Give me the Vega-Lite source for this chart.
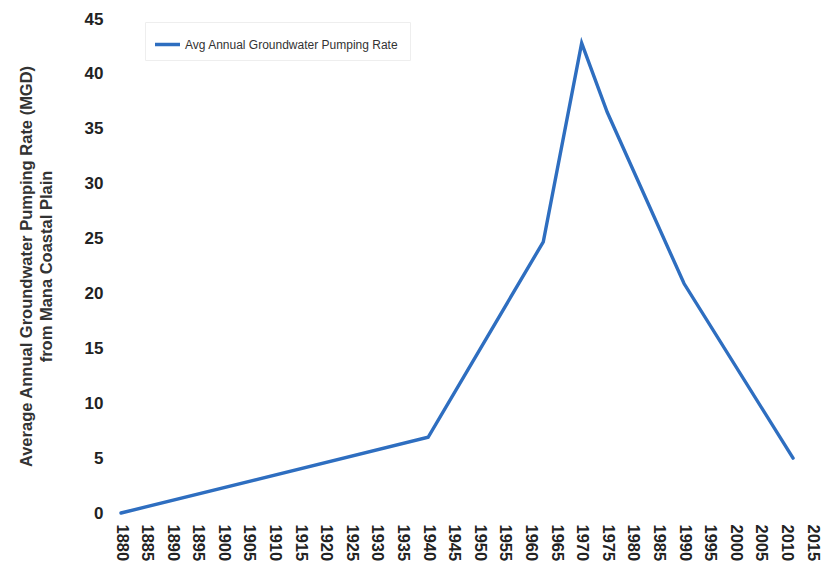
{
  "$schema": "https://vega.github.io/schema/vega-lite/v6.json",
  "width": 691,
  "height": 494,
  "autosize": "none",
  "padding": {"left": 121, "top": 19, "right": 23, "bottom": 59},
  "background": "white",
  "config": {"view": {"stroke": null}, "font": "Liberation Sans"},
  "data": {
    "values": [
      {"year": 1880, "rate": 0, "series": "Avg  Annual Groundwater Pumping Rate"},
      {"year": 1940, "rate": 6.9, "series": "Avg  Annual Groundwater Pumping Rate"},
      {"year": 1962.5, "rate": 24.7, "series": "Avg  Annual Groundwater Pumping Rate"},
      {"year": 1970, "rate": 42.8, "series": "Avg  Annual Groundwater Pumping Rate"},
      {"year": 1975, "rate": 36.5, "series": "Avg  Annual Groundwater Pumping Rate"},
      {"year": 1990, "rate": 20.9, "series": "Avg  Annual Groundwater Pumping Rate"},
      {"year": 2011.3, "rate": 5.0, "series": "Avg  Annual Groundwater Pumping Rate"}
    ]
  },
  "mark": {"type": "line", "strokeWidth": 3.4, "strokeCap": "round", "strokeJoin": "miter"},
  "encoding": {
    "x": {
      "field": "year",
      "type": "quantitative",
      "scale": {"domain": [1880, 2015], "nice": false, "zero": false},
      "axis": {
        "title": null,
        "values": [1880,1885,1890,1895,1900,1905,1910,1915,1920,1925,1930,1935,1940,1945,1950,1955,1960,1965,1970,1975,1980,1985,1990,1995,2000,2005,2010,2015],
        "format": "d",
        "labelAngle": 90,
        "labelAlign": "left",
        "labelBaseline": "middle",
        "labelFontSize": 16.5,
        "labelFontWeight": "bold",
        "labelColor": "#222222",
        "labelPadding": 11,
        "labelOverlap": false,
        "labelFlush": false,
        "grid": false,
        "domain": false,
        "ticks": false
      }
    },
    "y": {
      "field": "rate",
      "type": "quantitative",
      "scale": {"domain": [0, 45], "nice": false},
      "axis": {
        "title": ["Average Annual Groundwater Pumping Rate (MGD)", "from Mana Coastal Plain"],
        "titleFontSize": 16.5,
        "titleFontWeight": "bold",
        "titleColor": "#333333",
        "titlePadding": 30,
        "titleLineHeight": 20,
        "values": [0,5,10,15,20,25,30,35,40,45],
        "labelFontSize": 17,
        "labelFontWeight": "bold",
        "labelColor": "#222222",
        "labelPadding": 18,
        "grid": false,
        "domain": false,
        "ticks": false
      }
    },
    "color": {
      "field": "series",
      "type": "nominal",
      "scale": {"range": ["#2e6ec0"]},
      "legend": {
        "title": null,
        "orient": "none",
        "legendX": 24,
        "legendY": 3,
        "symbolType": "stroke",
        "symbolSize": 625,
        "symbolStrokeWidth": 3.5,
        "labelFontSize": 12,
        "labelLimit": 0,
        "labelColor": "#333333",
        "labelOffset": 3,
        "padding": 8,
        "strokeColor": "#eeeeee",
        "cornerRadius": 0
      }
    }
  }
}
